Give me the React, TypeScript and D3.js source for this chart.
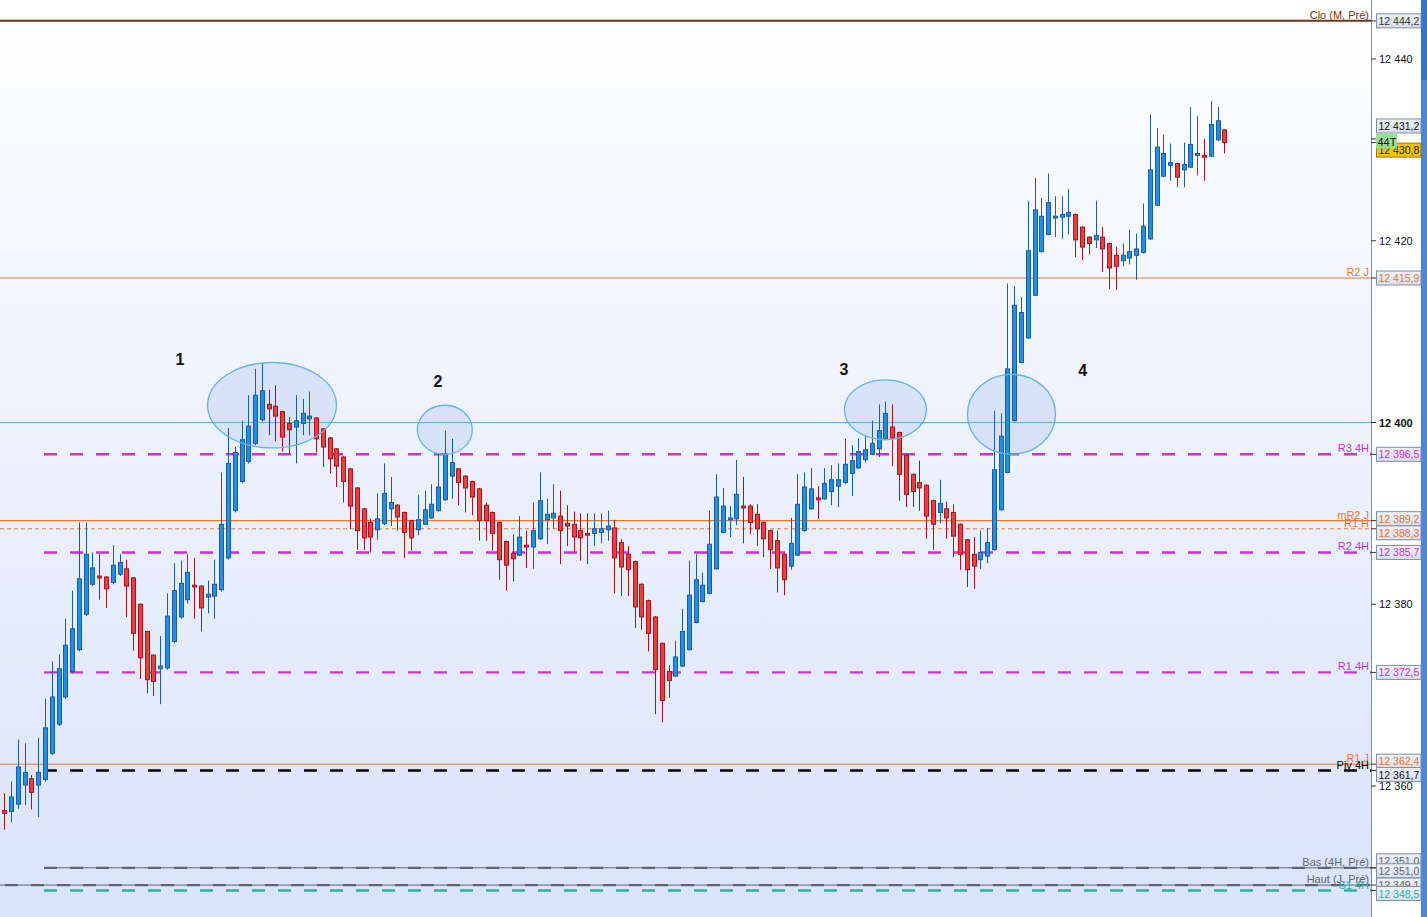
import React from "react";
import * as d3 from "d3";

// OHLC, one entry per bar (oldest first)
const opens = [
  12357.3, 12357.2, 12358.0, 12360.1, 12360.8, 12360.1, 12360.7, 12363.6, 12366.8, 12369.8,
  12372.6, 12375.0, 12378.9, 12382.2, 12383.1, 12383.0, 12382.4, 12383.3, 12383.9, 12382.9,
  12380.0, 12377.0, 12374.4, 12372.9, 12373.0, 12375.9, 12378.6, 12380.5, 12382.1, 12382.0,
  12380.8, 12380.9, 12381.6, 12385.1, 12390.3, 12393.5, 12395.7, 12397.7, 12400.3, 12402.0,
  12401.8, 12401.2, 12399.9, 12399.5, 12399.9, 12400.4, 12400.5, 12399.3, 12398.3, 12397.1,
  12396.2, 12394.9, 12392.8, 12390.5, 12389.0, 12388.2, 12388.9, 12390.5, 12390.9, 12390.1,
  12389.2, 12388.2, 12388.8, 12389.5, 12390.3, 12391.5, 12394.1, 12394.9, 12394.1, 12393.5,
  12392.7, 12390.9, 12390.1, 12389.0, 12386.9, 12385.6, 12385.4, 12386.5, 12386.3, 12387.2,
  12389.3, 12389.5, 12389.7, 12388.9, 12388.8, 12388.1, 12387.8, 12387.8, 12387.9, 12388.2,
  12388.4, 12386.8, 12385.5, 12384.7, 12382.2, 12380.4, 12378.6, 12375.7, 12372.6, 12372.1,
  12373.2, 12375.0, 12378.0, 12380.3, 12381.2, 12383.9, 12387.9, 12389.3, 12389.4, 12390.8,
  12390.8, 12389.9, 12389.0, 12388.1, 12387.0, 12385.5, 12384.2, 12385.4, 12388.1, 12390.5,
  12391.7, 12391.6, 12392.4, 12393.0, 12393.4, 12394.4, 12395.0, 12395.9, 12396.5, 12397.1,
  12398.2, 12399.5, 12398.9, 12396.4, 12394.3, 12393.4, 12393.1, 12391.4, 12390.1, 12390.5,
  12390.1, 12388.8, 12387.1, 12385.5, 12384.9, 12385.3, 12386.0, 12390.4, 12394.5, 12400.2,
  12406.6, 12409.3, 12414.0, 12418.8, 12420.7, 12422.5, 12422.6, 12422.7, 12422.9, 12421.5,
  12420.4, 12420.1, 12420.4, 12419.7, 12418.4, 12417.8, 12418.1, 12418.4, 12418.7, 12420.2,
  12423.9, 12427.1, 12428.3, 12428.5, 12427.8, 12428.1, 12429.4, 12429.4, 12429.3, 12431.1,
  12432.2,
];
const highs = [
  12359.2, 12360.5, 12365.1, 12364.7, 12361.2, 12365.3, 12369.6, 12373.7, 12374.5, 12378.4,
  12381.5, 12389.0, 12389.0, 12385.7, 12385.5, 12383.1, 12386.5, 12385.5, 12384.9, 12383.0,
  12380.1, 12377.1, 12374.5, 12376.5, 12381.2, 12384.5, 12384.8, 12385.5, 12385.1, 12382.1,
  12382.6, 12384.9, 12394.5, 12399.4, 12397.3, 12400.2, 12403.0, 12405.9, 12406.5, 12403.6,
  12404.1, 12401.3, 12400.6, 12403.0, 12402.6, 12403.4, 12400.6, 12399.4, 12398.4, 12397.2,
  12396.3, 12395.0, 12392.9, 12390.6, 12389.4, 12392.2, 12395.5, 12394.0, 12391.0, 12390.2,
  12389.3, 12392.0, 12392.5, 12393.2, 12396.6, 12399.1, 12398.2, 12395.0, 12394.2, 12393.6,
  12392.8, 12391.2, 12390.2, 12389.1, 12387.0, 12387.7, 12389.7, 12388.1, 12391.2, 12394.5,
  12391.6, 12393.2, 12392.5, 12390.9, 12390.2, 12390.0, 12390.0, 12390.0, 12390.0, 12390.3,
  12389.3, 12387.2, 12386.4, 12384.8, 12382.3, 12380.5, 12378.7, 12375.8, 12373.3, 12376.0,
  12379.5, 12384.8, 12385.5, 12383.5, 12390.3, 12394.3, 12392.8, 12390.8, 12395.9, 12394.0,
  12391.0, 12391.0, 12389.1, 12388.2, 12388.1, 12385.6, 12389.5, 12394.3, 12394.5, 12395.0,
  12393.0, 12395.0, 12395.3, 12395.5, 12398.2, 12397.5, 12398.2, 12398.5, 12400.2, 12402.0,
  12402.3, 12402.0, 12399.0, 12396.5, 12394.4, 12395.8, 12393.2, 12391.5, 12393.7, 12391.3,
  12391.0, 12388.9, 12387.2, 12387.4, 12388.1, 12388.4, 12401.3, 12401.0, 12415.3, 12415.0,
  12413.8, 12424.4, 12426.9, 12424.7, 12427.4, 12424.9, 12424.9, 12425.7, 12423.0, 12421.6,
  12420.5, 12424.4, 12421.5, 12419.8, 12419.3, 12419.7, 12421.2, 12420.8, 12424.1, 12433.9,
  12432.4, 12431.7, 12430.7, 12428.6, 12430.8, 12434.7, 12433.7, 12431.2, 12435.4, 12434.7,
  12432.3,
];
const lows = [
  12355.2, 12356.0, 12357.5, 12357.9, 12357.4, 12356.6, 12360.5, 12363.4, 12366.6, 12369.6,
  12372.4, 12374.8, 12378.7, 12382.0, 12380.5, 12379.6, 12382.2, 12383.1, 12378.6, 12374.9,
  12371.8, 12370.2, 12369.9, 12369.0, 12372.8, 12375.7, 12378.4, 12380.1, 12378.4, 12377.0,
  12379.0, 12378.4, 12381.4, 12384.9, 12390.1, 12393.3, 12395.5, 12397.5, 12400.1, 12398.6,
  12397.9, 12396.8, 12396.6, 12395.5, 12398.6, 12398.6, 12396.7, 12395.1, 12394.4, 12392.9,
  12391.2, 12388.3, 12386.0, 12386.0, 12385.7, 12387.1, 12388.7, 12388.6, 12388.1, 12385.1,
  12385.9, 12387.6, 12388.7, 12389.4, 12390.2, 12391.4, 12391.6, 12390.9, 12390.1, 12389.8,
  12387.0, 12387.0, 12385.9, 12382.7, 12381.5, 12382.5, 12385.3, 12384.0, 12383.9, 12387.1,
  12386.6, 12388.3, 12384.4, 12386.4, 12385.7, 12384.8, 12384.4, 12386.4, 12386.7, 12387.0,
  12381.2, 12380.9, 12380.9, 12377.4, 12377.2, 12374.8, 12367.9, 12367.0, 12369.7, 12372.0,
  12373.1, 12374.9, 12377.9, 12380.2, 12381.1, 12383.8, 12387.8, 12387.4, 12388.7, 12386.7,
  12387.7, 12386.4, 12385.2, 12383.9, 12381.3, 12381.0, 12383.8, 12385.3, 12388.0, 12390.4,
  12389.4, 12391.5, 12390.9, 12390.7, 12393.2, 12391.9, 12394.9, 12395.6, 12396.4, 12396.2,
  12398.1, 12395.2, 12391.4, 12390.7, 12390.7, 12390.3, 12387.2, 12386.0, 12388.9, 12387.2,
  12385.2, 12383.8, 12381.9, 12381.7, 12383.9, 12384.5, 12385.9, 12390.3, 12394.4, 12400.1,
  12406.5, 12409.2, 12413.9, 12418.7, 12420.6, 12420.4, 12420.2, 12420.7, 12418.2, 12417.9,
  12418.5, 12419.2, 12416.6, 12414.7, 12414.6, 12417.2, 12417.4, 12415.7, 12418.6, 12420.1,
  12423.8, 12427.0, 12426.6, 12425.9, 12425.9, 12428.0, 12427.2, 12426.6, 12429.2, 12431.0,
  12429.6,
];
const closes = [
  12357.0, 12358.8, 12362.1, 12361.5, 12359.3, 12361.5, 12366.4, 12369.8, 12372.9, 12375.5,
  12377.3, 12382.8, 12385.5, 12384.0, 12382.9, 12381.7, 12384.3, 12384.6, 12382.0, 12376.8,
  12374.1, 12371.7, 12371.5, 12373.2, 12378.7, 12381.5, 12382.3, 12383.5, 12381.9, 12379.6,
  12381.1, 12382.2, 12388.8, 12395.5, 12396.7, 12398.1, 12399.6, 12403.0, 12403.5, 12401.5,
  12400.7, 12398.4, 12399.2, 12400.2, 12401.0, 12400.7, 12398.2, 12397.3, 12396.0, 12395.2,
  12393.5, 12390.8, 12388.1, 12387.3, 12387.4, 12389.4, 12392.2, 12391.2, 12389.6, 12387.9,
  12387.3, 12389.3, 12390.4, 12391.0, 12392.9, 12396.5, 12395.6, 12393.4, 12392.8, 12391.8,
  12389.2, 12389.2, 12387.8, 12384.9, 12384.3, 12385.0, 12387.4, 12386.3, 12388.1, 12391.4,
  12389.9, 12390.0, 12388.1, 12388.6, 12387.4, 12387.3, 12387.6, 12388.3, 12388.3, 12388.6,
  12385.1, 12384.1, 12383.8, 12379.7, 12378.6, 12376.8, 12372.8, 12369.4, 12371.6, 12374.2,
  12377.0, 12381.0, 12382.7, 12382.1, 12386.6, 12391.8, 12390.8, 12389.5, 12392.1, 12390.6,
  12389.0, 12388.3, 12387.2, 12386.0, 12384.0, 12382.7, 12386.7, 12391.0, 12392.9, 12392.7,
  12391.5, 12393.3, 12393.7, 12393.7, 12395.4, 12395.8, 12396.8, 12397.0, 12397.7, 12399.1,
  12401.0, 12398.3, 12394.3, 12392.1, 12392.4, 12392.8, 12389.7, 12388.8, 12391.1, 12389.5,
  12387.5, 12385.5, 12383.8, 12384.2, 12385.7, 12386.8, 12394.8, 12398.5, 12405.9, 12412.9,
  12412.1, 12418.9, 12423.4, 12422.7, 12424.2, 12422.7, 12422.9, 12423.1, 12420.1, 12419.3,
  12419.7, 12420.6, 12419.1, 12417.0, 12417.2, 12418.4, 12418.8, 12419.1, 12421.6, 12427.8,
  12430.3, 12429.6, 12428.6, 12427.0, 12428.4, 12430.6, 12429.6, 12429.2, 12432.8, 12433.2,
  12430.8,
];

// horizontal levels
const levelNames = [
  "Clo (M, Pré)", "R2 J", "R3 4H", "mR2 J", "R1 H", "R2 4H",
  "R1 4H", "R1 J", "Piv 4H", "Bas (4H, Pré)", "Haut (J, Pré)", "S1 4H",
];
const levelValues = [
  12444.2, 12415.9, 12396.5, 12389.2, 12388.3, 12385.7,
  12372.5, 12362.4, 12361.7, 12351.0, 12349.1, 12348.5,
];
const roundLevel = 12400;
const axisTicks = [12360, 12380, 12400, 12420, 12440];
const lastPrice = 12430.8;
const refPrice = 12431.2;
const extraPrice = 12351.0;
const tickCountLabel = "44T";

// circled zones and their numbers (bar index / price units)
const zoneLabels = ["1", "2", "3", "4"];
const zoneIndex = [39.5, 65.0, 130.0, 148.6];
const zonePrice = [12401.9, 12399.2, 12401.4, 12400.9];
const zoneHalfBars = [9.5, 4.05, 6.05, 6.5];
const zoneHalfPts = [4.7, 2.7, 3.3, 4.4];
const zoneLabelIndex = [25.9, 64.0, 123.9, 159.1];
const zoneLabelPrice = [12406.3, 12403.9, 12405.2, 12405.1];

const ORANGE = "#e8782f";
const MAGENTA = "#d22fd2";
const TEAL = "#25b5a3";
const GREY = "#5f656e";

type LS = {
  color: string;
  width: number;
  dash?: string;
  x0: number;
  base?: number; // thin solid line under the dashes, start x
  text: string;
  boxText: string;
  boxDy: number;
};

const levelStyle: Record<string, LS> = {
  "Clo (M, Pré)": { color: "#6e3612", width: 2, x0: 0, text: "#6e3612", boxText: "#333", boxDy: 0 },
  "R2 J": { color: ORANGE, width: 1, x0: 0, text: ORANGE, boxText: ORANGE, boxDy: 0 },
  "R3 4H": { color: MAGENTA, width: 2.4, dash: "13 13", x0: 44, text: MAGENTA, boxText: MAGENTA, boxDy: 0 },
  "mR2 J": { color: ORANGE, width: 1.3, x0: 0, text: ORANGE, boxText: ORANGE, boxDy: -2 },
  "R1 H": { color: ORANGE, width: 1, dash: "4 3", x0: 0, text: ORANGE, boxText: ORANGE, boxDy: 4 },
  "R2 4H": { color: MAGENTA, width: 2.4, dash: "13 13", x0: 44, text: MAGENTA, boxText: MAGENTA, boxDy: 0 },
  "R1 4H": { color: MAGENTA, width: 2.4, dash: "13 13", x0: 44, text: MAGENTA, boxText: MAGENTA, boxDy: 0 },
  "R1 J": { color: ORANGE, width: 1, x0: 0, text: ORANGE, boxText: ORANGE, boxDy: -3 },
  "Piv 4H": { color: "#000", width: 2.4, dash: "13 13", x0: 44, text: "#000", boxText: "#111", boxDy: 4 },
  "Bas (4H, Pré)": { color: GREY, width: 2.2, dash: "13 13", x0: 44, base: 44, text: GREY, boxText: GREY, boxDy: -7 },
  "Haut (J, Pré)": { color: GREY, width: 2.2, dash: "13 13", x0: 5, base: 0, text: GREY, boxText: GREY, boxDy: 0 },
  "S1 4H": { color: TEAL, width: 2.4, dash: "13 13", x0: 44, text: TEAL, boxText: TEAL, boxDy: 3 },
};

const W = 1427;
const H = 917;
const plotRight = 1371;
const axisRight = 1421;
const FONT = "'Liberation Sans', Arial, sans-serif";

const UP_FILL = "#1f8fe6";
const UP_LINE = "#1a5ca8";
const DN_FILL = "#f23b3b";
const DN_LINE = "#a8141a";

export default function App() {
  const x = d3.scaleLinear().domain([0, closes.length - 1]).range([4.3, 1224.3]);
  const y = d3.scaleLinear().domain([12360, 12440]).range([786, 59]);

  const fr = d3.formatLocale({ decimal: ",", thousands: " ", grouping: [3], currency: ["", ""] });
  const fmt1 = fr.format(",.1f");
  const fmt0 = fr.format(",.0f");

  const bw = 4;

  const zones = zoneLabels.map((z, i) => {
    const cx = x(zoneIndex[i]);
    const cy = y(zonePrice[i]);
    return {
      z,
      cx,
      cy,
      rx: x(zoneIndex[i] + zoneHalfBars[i]) - cx,
      ry: y(zonePrice[i] - zoneHalfPts[i]) - cy,
      lx: x(zoneLabelIndex[i]),
      ly: y(zoneLabelPrice[i]),
    };
  });

  // right-side value boxes, painted in this order
  const boxes: { v: number; dy: number; color: string; fill?: string; stroke?: string }[] = [
    { v: refPrice, dy: -13, color: "#111" },
    { v: lastPrice, dy: 7.5, color: "#222", fill: "#f2c200", stroke: "#9a7d00" },
  ];
  levelNames.forEach((n, i) => {
    const s = levelStyle[n];
    boxes.push({ v: levelValues[i], dy: s.boxDy, color: s.boxText });
    if (n === "Bas (4H, Pré)") boxes.push({ v: extraPrice, dy: 3, color: GREY });
  });

  return (
    <svg
      width={W}
      height={H}
      style={{ position: "absolute", left: 0, top: 0, display: "block" }}
      fontFamily={FONT}
    >
      <defs>
        <linearGradient id="bg" x1="0" y1="0" x2="0" y2="1">
          <stop offset="0" stopColor="#ffffff" />
          <stop offset="1" stopColor="#d9e3fa" />
        </linearGradient>
        <linearGradient id="box" x1="0" y1="0" x2="0" y2="1">
          <stop offset="0" stopColor="#eef2f8" />
          <stop offset="1" stopColor="#d6deea" />
        </linearGradient>
      </defs>

      <rect x={0} y={0} width={plotRight} height={H} fill="url(#bg)" />
      <rect x={plotRight} y={0} width={axisRight - plotRight} height={H} fill="#ffffff" />
      <rect x={axisRight} y={0} width={W - axisRight} height={H} fill="#4a86dc" />
      <rect x={axisRight} y={0} width={W - axisRight} height={80} fill="#3373d2" />

      {/* zone fills sit behind the bars */}
      {zones.map((d) => (
        <ellipse key={"f" + d.z} cx={d.cx} cy={d.cy} rx={d.rx} ry={d.ry} fill="#c4d6f6" fillOpacity={0.55} />
      ))}

      {/* round number line */}
      <line x1={0} x2={plotRight} y1={y(roundLevel)} y2={y(roundLevel)} stroke="#58b3ea" strokeWidth={1} />

      {/* levels */}
      {levelNames.map((n, i) => {
        const s = levelStyle[n];
        const ly = y(levelValues[i]);
        return (
          <g key={n}>
            {s.base !== undefined && (
              <line x1={s.base} x2={plotRight} y1={ly} y2={ly} stroke={s.color} strokeWidth={1} />
            )}
            <line
              x1={s.x0}
              x2={plotRight}
              y1={ly}
              y2={ly}
              stroke={s.color}
              strokeWidth={s.width}
              strokeDasharray={s.dash}
            />
          </g>
        );
      })}

      {/* candles */}
      {d3.range(closes.length).map((i) => {
        const up = closes[i] >= opens[i];
        const cx = Math.round(x(i)) + 0.5;
        const top = y(Math.max(opens[i], closes[i]));
        const bot = y(Math.min(opens[i], closes[i]));
        return (
          <g key={i}>
            <line
              x1={cx}
              x2={cx}
              y1={y(highs[i])}
              y2={y(lows[i])}
              stroke={up ? UP_LINE : DN_LINE}
              strokeWidth={1}
            />
            <rect
              x={cx - bw / 2}
              y={top}
              width={bw}
              height={Math.max(bot - top, 1.5)}
              fill={up ? UP_FILL : DN_FILL}
              stroke={up ? UP_LINE : DN_LINE}
              strokeWidth={1}
            />
          </g>
        );
      })}

      {/* zone outlines and numbers */}
      {zones.map((d) => (
        <g key={d.z}>
          <ellipse cx={d.cx} cy={d.cy} rx={d.rx} ry={d.ry} fill="none" stroke="#5fb4e8" strokeWidth={1.3} />
          <text x={d.lx} y={d.ly} textAnchor="middle" fontSize={16} fontWeight="bold" fill="#111">
            {d.z}
          </text>
        </g>
      ))}

      {/* level names */}
      {levelNames.map((n, i) => {
        const s = levelStyle[n];
        return (
          <text
            key={n}
            x={plotRight - 2}
            y={y(levelValues[i]) - 2}
            textAnchor="end"
            fontSize={11}
            fill={s.text}
          >
            {n}
          </text>
        );
      })}

      {/* axis */}
      <line x1={plotRight + 0.5} x2={plotRight + 0.5} y1={0} y2={H} stroke="#7d8ea8" strokeWidth={1} />
      {axisTicks.map((t) => (
        <g key={t}>
          <line x1={plotRight} x2={plotRight + 5} y1={y(t)} y2={y(t)} stroke="#333" strokeWidth={1} />
          <text
            x={plotRight + 8}
            y={y(t) + 4}
            fontSize={11}
            fontWeight={t === roundLevel ? "bold" : "normal"}
            fill="#111"
          >
            {fmt0(t)}
          </text>
        </g>
      ))}

      {/* value boxes */}
      {boxes.map((b, i) => {
        const ly = y(b.v);
        const cy = ly + b.dy;
        return (
          <g key={i}>
            <line x1={plotRight} x2={plotRight + 5} y1={ly} y2={ly} stroke="#333" strokeWidth={1} />
            <rect
              x={plotRight + 5.5}
              y={cy - 7}
              width={44.5}
              height={14}
              fill={b.fill ?? "url(#box)"}
              stroke={b.stroke ?? "#7f8fa6"}
              strokeWidth={1}
            />
            <text x={plotRight + 7.5} y={cy + 4} fontSize={10.5} fill={b.color}>
              {fmt1(b.v)}
            </text>
          </g>
        );
      })}

      {/* tick counter badge */}
      <rect x={plotRight + 5} y={y(lastPrice) - 9} width={21} height={15} fill="#8fe08f" opacity={0.95} />
      <text x={plotRight + 6.5} y={y(lastPrice) + 3} fontSize={11} fill="#111">
        {tickCountLabel}
      </text>
    </svg>
  );
}
